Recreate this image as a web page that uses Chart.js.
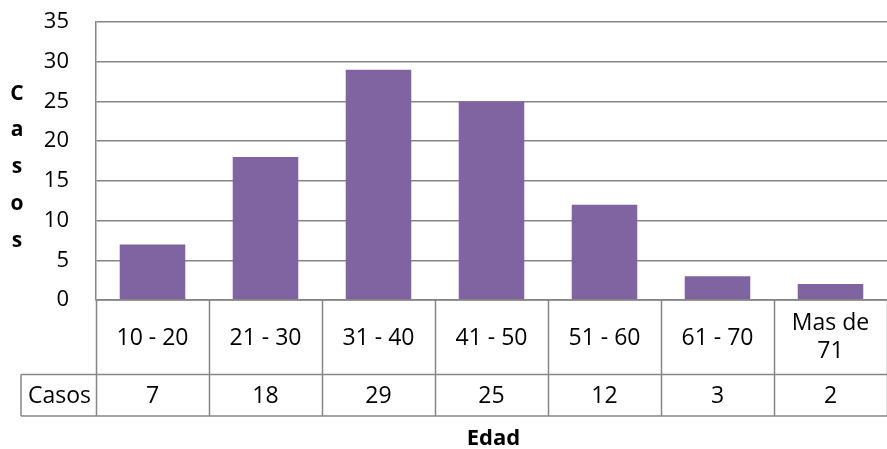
<!DOCTYPE html>
<html>
<head>
<meta charset="utf-8">
<script src="https://cdn.jsdelivr.net/npm/chart.js@4/dist/chart.umd.min.js"></script>
<style>
  html, body { margin: 0; padding: 0; background: #ffffff; }
  #wrap { width: 887px; height: 449px; position: relative; }
</style>
</head>
<body>
<div id="wrap"><canvas id="chart"></canvas></div>
<script>
// Age groups and number of cases
const categories = ['10 - 20', '21 - 30', '31 - 40', '41 - 50', '51 - 60', '61 - 70', ['Mas de', '71']];
const casos = [7, 18, 29, 25, 12, 3, 2];
const seriesName = 'Casos';
const yTitle = 'Casos';
const xTitle = 'Edad';
const yTicks = { min: 0, max: 35, step: 5 };

const FONT = '"Open Sans", "Noto Sans", sans-serif';
const LINE = '#868686';
const BAR = '#8064A2';

// Draws the data table below the plot, the stacked y title and the x title
const tablePlugin = {
  id: 'dataTable',
  afterDraw(chart) {
    const ctx = chart.ctx;
    const x = chart.scales.x;
    const area = chart.chartArea;
    const n = categories.length;
    const colW = (area.right - area.left) / n;
    const top = area.bottom;
    const mid = top + 74.5;
    const bot = top + 116;
    const labelLeft = 21;

    ctx.save();
    ctx.strokeStyle = LINE;
    ctx.lineWidth = 1.5;
    ctx.beginPath();
    // horizontal rules
    ctx.moveTo(area.left, top); ctx.lineTo(area.right, top);
    ctx.moveTo(labelLeft, mid); ctx.lineTo(area.right, mid);
    ctx.moveTo(labelLeft, bot); ctx.lineTo(area.right, bot);
    // vertical rules between categories
    for (let i = 0; i <= n; i++) {
      const xp = Math.round(area.left + i * colW) + 0.5;
      ctx.moveTo(xp, top); ctx.lineTo(xp, bot);
    }
    ctx.moveTo(labelLeft, mid); ctx.lineTo(labelLeft, bot);
    ctx.stroke();

    ctx.fillStyle = '#000000';
    ctx.textAlign = 'center';
    ctx.textBaseline = 'alphabetic';
    ctx.font = '23px ' + FONT;
    categories.forEach((c, i) => {
      const cx = x.getPixelForValue(i);
      if (Array.isArray(c)) {
        ctx.fillText(c[0], cx, top + 30);
        ctx.fillText(c[1], cx, top + 58);
      } else {
        ctx.fillText(c, cx, top + 45);
      }
      ctx.fillText(String(casos[i]), cx, top + 103);
    });
    ctx.fillText(seriesName, (labelLeft + area.left) / 2 + 1, top + 103);

    // x title
    ctx.font = 'bold 22px ' + FONT;
    ctx.fillText(xTitle, (area.left + area.right) / 2 + 2, top + 145);

    // y title, one letter per line
    ctx.font = 'bold 21px ' + FONT;
    const letters = yTitle.split('');
    letters.forEach((ch, i) => {
      ctx.fillText(ch, 17, 99.5 + i * 36.8);
    });
    ctx.restore();
  }
};

new Chart(document.getElementById('chart'), {
  type: 'bar',
  data: {
    labels: categories,
    datasets: [{
      label: seriesName,
      data: casos,
      backgroundColor: BAR,
      borderWidth: 0,
      barPercentage: 0.58,
      categoryPercentage: 1
    }]
  },
  options: {
    responsive: true,
    maintainAspectRatio: false,
    animation: false,
    devicePixelRatio: 1,
    layout: { padding: { top: 22, right: 0, bottom: 149, left: 0 } },
    plugins: {
      legend: { display: false },
      tooltip: { enabled: false },
      title: { display: false }
    },
    scales: {
      x: { display: false },
      y: {
        min: yTicks.min,
        max: yTicks.max,
        afterFit(scale) {
          scale.width = 96;
          scale.paddingTop = 0;
          scale.paddingBottom = 0;
        },
        ticks: {
          stepSize: yTicks.step,
          padding: 27,
          color: '#000000',
          font: { family: FONT, size: 22 }
        },
        grid: { color: LINE, lineWidth: 1.5, drawTicks: false },
        border: { display: true, color: LINE, width: 1.5 }
      }
    }
  },
  plugins: [tablePlugin]
});
</script>
</body>
</html>
